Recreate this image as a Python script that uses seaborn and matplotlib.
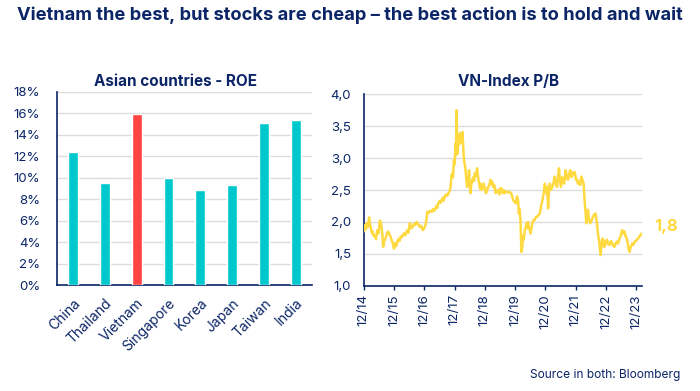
import matplotlib
matplotlib.use("Agg")
import matplotlib.pyplot as plt
import matplotlib.dates as mdates
from matplotlib.ticker import FuncFormatter, MultipleLocator
import pandas as pd
import seaborn as sns

# ---- data ----
countries = ["China", "Thailand", "Vietnam", "Singapore", "Korea", "Japan", "Taiwan", "India"]
roe = [12.4, 9.5, 15.9, 10.0, 8.9, 9.3, 15.1, 15.4]

pb_dates = [
    "2014-12-01", "2014-12-15", "2014-12-25", "2015-01-07", "2015-01-20", "2015-02-04",
    "2015-02-14", "2015-02-24", "2015-03-08", "2015-03-18", "2015-03-30", "2015-04-15",
    "2015-04-28", "2015-05-13", "2015-05-28", "2015-06-14", "2015-06-24", "2015-07-04",
    "2015-07-14", "2015-07-24", "2015-08-04", "2015-08-14", "2015-08-28", "2015-09-10",
    "2015-09-23", "2015-10-08", "2015-10-21", "2015-11-05", "2015-11-18", "2015-12-01",
    "2015-12-15", "2015-12-28", "2016-01-10", "2016-01-25", "2016-02-05", "2016-02-19",
    "2016-03-05", "2016-03-18", "2016-03-30", "2016-04-15", "2016-04-28", "2016-05-09",
    "2016-05-22", "2016-06-10", "2016-06-25", "2016-07-12", "2016-07-28", "2016-08-12",
    "2016-08-30", "2016-09-15", "2016-10-09", "2016-10-25", "2016-11-11", "2016-11-28",
    "2016-12-10", "2016-12-21", "2017-01-06", "2017-01-20", "2017-02-05", "2017-02-28",
    "2017-03-15", "2017-03-25", "2017-04-08", "2017-04-25", "2017-05-05", "2017-05-18",
    "2017-06-05", "2017-06-15", "2017-06-27", "2017-07-12", "2017-07-22", "2017-08-06",
    "2017-08-22", "2017-09-05", "2017-09-16", "2017-10-01", "2017-10-14", "2017-10-24",
    "2017-11-03", "2017-11-12", "2017-11-23", "2017-12-03", "2017-12-13", "2017-12-19",
    "2017-12-25", "2018-01-01", "2018-01-07", "2018-01-15", "2018-01-23", "2018-01-28",
    "2018-02-04", "2018-02-14", "2018-02-24", "2018-03-06", "2018-03-14", "2018-03-22",
    "2018-03-30", "2018-04-08", "2018-04-20", "2018-05-01", "2018-05-08", "2018-05-15",
    "2018-05-25", "2018-06-02", "2018-06-11", "2018-06-20", "2018-07-05", "2018-07-15",
    "2018-07-25", "2018-08-02", "2018-08-15", "2018-08-30", "2018-09-10", "2018-09-24",
    "2018-10-05", "2018-10-12", "2018-10-22", "2018-11-05", "2018-11-19", "2018-12-01",
    "2018-12-13", "2018-12-25", "2019-01-11", "2019-01-25", "2019-02-08", "2019-02-20",
    "2019-03-01", "2019-03-10", "2019-03-25", "2019-04-12", "2019-04-25", "2019-05-10",
    "2019-05-25", "2019-06-05", "2019-06-19", "2019-07-05", "2019-07-15", "2019-07-29",
    "2019-08-15", "2019-09-08", "2019-09-25", "2019-10-18", "2019-10-28", "2019-11-08",
    "2019-11-22", "2019-12-09", "2019-12-25", "2020-01-08", "2020-01-15", "2020-01-25",
    "2020-02-04", "2020-02-16", "2020-02-26", "2020-03-05", "2020-03-15", "2020-03-25",
    "2020-04-08", "2020-04-18", "2020-04-28", "2020-05-06", "2020-05-15", "2020-05-25",
    "2020-06-03", "2020-06-15", "2020-06-27", "2020-07-10", "2020-07-25", "2020-08-10",
    "2020-08-23", "2020-09-05", "2020-09-24", "2020-10-10", "2020-10-26", "2020-11-10",
    "2020-11-24", "2020-12-05", "2020-12-13", "2020-12-22", "2021-01-03", "2021-01-12",
    "2021-01-23", "2021-02-05", "2021-02-24", "2021-03-10", "2021-03-23", "2021-04-05",
    "2021-04-20", "2021-05-01", "2021-05-14", "2021-05-25", "2021-06-07", "2021-06-20",
    "2021-07-01", "2021-07-15", "2021-08-03", "2021-08-15", "2021-08-31", "2021-09-12",
    "2021-09-28", "2021-10-10", "2021-10-22", "2021-11-05", "2021-11-20", "2021-12-05",
    "2021-12-17", "2021-12-28", "2022-01-11", "2022-01-25", "2022-02-09", "2022-02-22",
    "2022-03-07", "2022-03-19", "2022-03-28", "2022-04-08", "2022-04-18", "2022-04-28",
    "2022-05-10", "2022-05-26", "2022-06-10", "2022-06-28", "2022-07-15", "2022-07-30",
    "2022-08-08", "2022-08-15", "2022-08-28", "2022-09-08", "2022-09-18", "2022-09-28",
    "2022-10-08", "2022-10-16", "2022-10-26", "2022-11-05", "2022-11-16", "2022-11-28",
    "2022-12-14", "2022-12-28", "2023-01-15", "2023-01-30", "2023-02-16", "2023-03-01",
    "2023-03-15", "2023-03-28", "2023-04-12", "2023-04-25", "2023-05-14", "2023-05-28",
    "2023-06-15", "2023-06-25", "2023-07-13", "2023-07-25", "2023-08-10", "2023-08-22",
    "2023-09-01", "2023-09-12", "2023-09-25", "2023-10-14", "2023-10-28", "2023-11-12",
    "2023-11-28", "2023-12-10", "2023-12-22", "2024-01-05", "2024-01-19", "2024-02-08",
]
pb_values = [
    1.85, 1.95, 1.88, 1.98, 1.92, 2.07,
    1.96, 1.92, 1.83, 1.85, 1.78, 1.79,
    1.73, 1.87, 1.82, 2.02, 2.00, 1.92,
    1.80, 1.61, 1.70, 1.72, 1.77, 1.83,
    1.85, 1.80, 1.77, 1.70, 1.66, 1.58,
    1.67, 1.62, 1.69, 1.73, 1.70, 1.77,
    1.76, 1.80, 1.82, 1.79, 1.84, 1.87,
    1.83, 1.98, 1.90, 1.92, 1.97, 1.95,
    2.00, 1.97, 1.92, 1.94, 1.87, 1.90,
    1.93, 1.98, 2.16, 2.14, 2.17, 2.16,
    2.20, 2.17, 2.19, 2.25, 2.22, 2.29,
    2.33, 2.30, 2.34, 2.38, 2.33, 2.40,
    2.43, 2.41, 2.45, 2.47, 2.55, 2.72,
    2.76, 2.70, 2.97, 2.90, 3.23, 3.05,
    3.75, 3.30, 3.07, 3.30, 3.34, 3.22,
    3.39, 3.25, 3.28, 3.41, 3.20, 3.02,
    2.92, 2.87, 2.70, 2.55, 2.70, 2.62,
    2.81, 2.60, 2.45, 2.58, 2.66, 2.70,
    2.64, 2.76, 2.72, 2.84, 2.70, 2.60,
    2.52, 2.60, 2.50, 2.55, 2.60, 2.52,
    2.45, 2.48, 2.55, 2.58, 2.66, 2.60,
    2.63, 2.55, 2.58, 2.45, 2.48, 2.50,
    2.43, 2.52, 2.53, 2.45, 2.50, 2.45,
    2.48, 2.46, 2.47, 2.44, 2.40, 2.34,
    2.32, 2.29, 2.40, 2.32, 2.13, 2.20,
    2.03, 1.53, 1.60, 1.78, 1.72, 1.85,
    1.92, 1.98, 1.90, 2.00, 1.92, 1.88,
    1.82, 1.90, 1.98, 2.03, 2.03, 2.08,
    2.08, 2.10, 2.13, 2.25, 2.34, 2.45,
    2.60, 2.52, 2.45, 2.55, 2.21, 2.48,
    2.60, 2.50, 2.55, 2.62, 2.71, 2.60,
    2.55, 2.70, 2.84, 2.65, 2.55, 2.70,
    2.66, 2.60, 2.81, 2.70, 2.66, 2.75,
    2.81, 2.70, 2.73, 2.78, 2.78, 2.66,
    2.67, 2.60, 2.63, 2.58, 2.71, 2.65,
    2.60, 2.34, 2.20, 1.98, 2.10, 2.19,
    2.05, 1.98, 2.02, 2.08, 2.12, 2.13,
    2.05, 1.98, 1.80, 1.72, 1.60, 1.48,
    1.62, 1.72, 1.74, 1.62, 1.61, 1.70,
    1.72, 1.65, 1.64, 1.70, 1.66, 1.62,
    1.61, 1.66, 1.69, 1.66, 1.74, 1.78,
    1.87, 1.82, 1.85, 1.78, 1.74, 1.65,
    1.58, 1.53, 1.60, 1.66, 1.64, 1.69,
    1.70, 1.72, 1.74, 1.76, 1.79, 1.82,
]
year_ticks = ["2014-12-01", "2015-12-01", "2016-12-01", "2017-12-01", "2018-12-01",
              "2019-12-01", "2020-12-01", "2021-12-01", "2022-12-01", "2023-12-01"]
last_label = "1,8"

# ---- style ----
NAVY = "#0b2566"
TEAL = "#00c8cc"
RED = "#ff4444"
YELLOW = "#ffd940"
GRID = "#dcdcdc"

sns.set_theme(style="white")
plt.rcParams["font.family"] = ["Inter", "DejaVu Sans"]

fig = plt.figure(figsize=(7.0, 3.91), dpi=100)

fig.text(0.5, 0.962, "Vietnam the best, but stocks are cheap \u2013 the best action is to hold and wait",
         ha="center", va="center", fontsize=13.2, fontweight="bold", color=NAVY)

# ---- left: bar chart ----
ax1 = fig.add_axes([0.0814, 0.271, 0.364, 0.494])
df_bar = pd.DataFrame({"country": countries, "roe": roe})
palette = {c: (RED if c == "Vietnam" else TEAL) for c in countries}
sns.barplot(data=df_bar, x="country", y="roe", hue="country", palette=palette,
            legend=False, width=0.31, saturation=1, ax=ax1, zorder=3)
ax1.set_ylim(0, 18)
ax1.set_xlim(-0.5, 7.5)
ax1.yaxis.set_major_locator(MultipleLocator(2))
ax1.yaxis.set_major_formatter(FuncFormatter(lambda v, p: f"{int(round(v))}%"))
ax1.grid(axis="y", color=GRID, lw=1, zorder=0)
ax1.set_xlabel("")
ax1.set_ylabel("")
for s in ["top", "right"]:
    ax1.spines[s].set_visible(False)
for s in ["left", "bottom"]:
    ax1.spines[s].set_color(NAVY)
    ax1.spines[s].set_linewidth(1.2)
ax1.tick_params(axis="y", length=0, pad=12, labelsize=9.5, labelcolor=NAVY)
ax1.tick_params(axis="x", length=0, pad=8, labelsize=10, labelcolor=NAVY)
for lab in ax1.get_xticklabels():
    lab.set_rotation(45)
    lab.set_ha("right")
    lab.set_rotation_mode("anchor")
fig.text(176 / 700, 1 - 82 / 391, "Asian countries - ROE", ha="center", va="center",
         fontsize=11, fontweight="bold", color=NAVY)

# ---- right: line chart ----
ax2 = fig.add_axes([0.5196, 0.2693, 0.3976, 0.4895])
df_pb = pd.DataFrame({"date": pd.to_datetime(pb_dates), "pb": pb_values})
sns.lineplot(data=df_pb, x="date", y="pb", color=YELLOW, lw=1.8, ax=ax2, zorder=3)
ax2.set_ylim(1.0, 4.0)
ax2.set_xlim(pd.Timestamp("2014-12-01"), pd.Timestamp("2024-02-10"))
ax2.yaxis.set_major_locator(MultipleLocator(0.5))
ax2.yaxis.set_major_formatter(FuncFormatter(lambda v, p: f"{v:.1f}".replace(".", ",")))
ax2.set_xticks(pd.to_datetime(year_ticks))
ax2.xaxis.set_major_formatter(mdates.DateFormatter("%m/%y"))
ax2.grid(axis="y", color=GRID, lw=1, zorder=0)
ax2.set_xlabel("")
ax2.set_ylabel("")
for s in ["top", "right"]:
    ax2.spines[s].set_visible(False)
for s in ["left", "bottom"]:
    ax2.spines[s].set_color(NAVY)
    ax2.spines[s].set_linewidth(1.2)
ax2.tick_params(axis="y", length=0, pad=9, labelsize=9.5, labelcolor=NAVY)
ax2.tick_params(axis="x", bottom=True, length=3, width=1, color=NAVY, pad=3,
                labelsize=9.5, labelcolor=NAVY, labelrotation=90)
ax2.annotate(last_label, xy=(df_pb["date"].iloc[-1], df_pb["pb"].iloc[-1]),
             xytext=(9, 5), textcoords="offset points", ha="left", va="center",
             fontsize=12, fontweight="bold", color=YELLOW, annotation_clip=False)
fig.text(509 / 700, 1 - 82 / 391, "VN-Index P/B", ha="center", va="center",
         fontsize=11, fontweight="bold", color=NAVY)

fig.text(680 / 700, 0.041, "Source in both: Bloomberg", ha="right", va="center",
         fontsize=8.6, color=NAVY)

fig.savefig("out.png", dpi=100)
